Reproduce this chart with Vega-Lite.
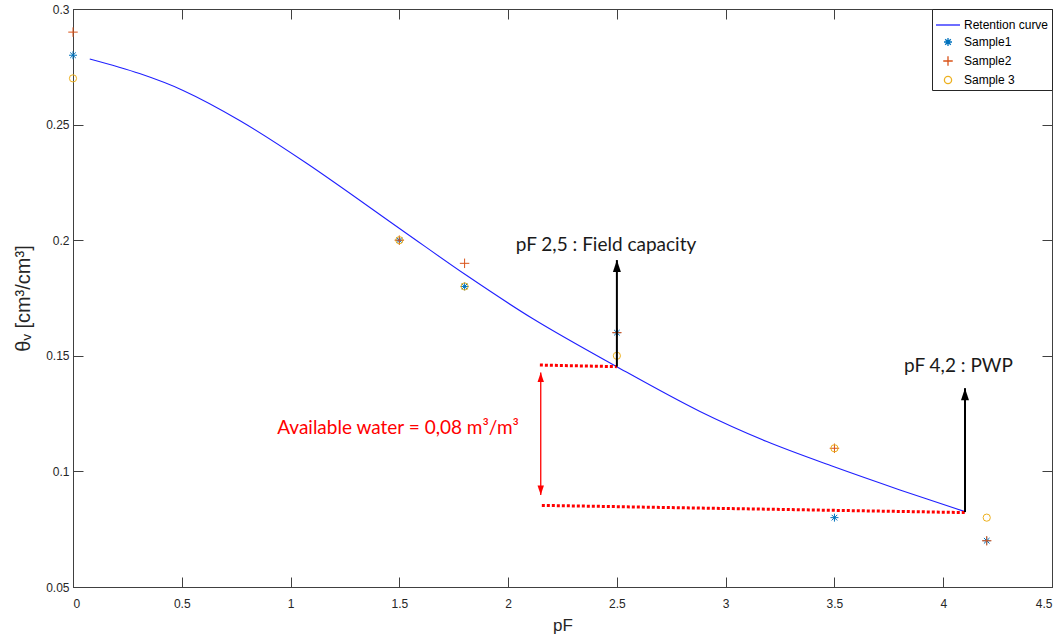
{
  "$schema": "https://vega.github.io/schema/vega-lite/v6.json",
  "width": 979,
  "height": 578,
  "autosize": "none",
  "padding": {"left": 73, "top": 9, "right": 8, "bottom": 55},
  "background": "white",
  "config": {
    "font": "Liberation Sans",
    "view": {"stroke": "#404040", "strokeWidth": 1},
    "axis": {
      "grid": false,
      "domainColor": "#404040",
      "tickColor": "#404040",
      "tickSize": -10,
      "labelColor": "#262626",
      "labelFont": "Liberation Sans",
      "labelFontSize": 12,
      "titleFont": "Liberation Sans",
      "titleFontSize": 16,
      "titleFontWeight": "normal",
      "titleColor": "#262626"
    }
  },
  "datasets": {
    "curve": [
      {"pF": 0.077, "theta": 0.2784},
      {"pF": 0.306, "theta": 0.2721},
      {"pF": 0.506, "theta": 0.2648},
      {"pF": 0.766, "theta": 0.2518},
      {"pF": 1.072, "theta": 0.2334},
      {"pF": 1.517, "theta": 0.2040},
      {"pF": 1.810, "theta": 0.1847},
      {"pF": 2.116, "theta": 0.1659},
      {"pF": 2.499, "theta": 0.1453},
      {"pF": 2.882, "theta": 0.1259},
      {"pF": 3.189, "theta": 0.1129},
      {"pF": 3.495, "theta": 0.1021},
      {"pF": 3.801, "theta": 0.0920},
      {"pF": 4.100, "theta": 0.0826}
    ],
    "samples": [
      {"series": "Sample1", "pF": 0, "theta": 0.28},
      {"series": "Sample1", "pF": 1.5, "theta": 0.20},
      {"series": "Sample1", "pF": 1.8, "theta": 0.18},
      {"series": "Sample1", "pF": 2.5, "theta": 0.16},
      {"series": "Sample1", "pF": 3.5, "theta": 0.08},
      {"series": "Sample1", "pF": 4.2, "theta": 0.07},
      {"series": "Sample2", "pF": 0, "theta": 0.29},
      {"series": "Sample2", "pF": 1.5, "theta": 0.20},
      {"series": "Sample2", "pF": 1.8, "theta": 0.19},
      {"series": "Sample2", "pF": 2.5, "theta": 0.16},
      {"series": "Sample2", "pF": 3.5, "theta": 0.11},
      {"series": "Sample2", "pF": 4.2, "theta": 0.07},
      {"series": "Sample 3", "pF": 0, "theta": 0.27},
      {"series": "Sample 3", "pF": 1.5, "theta": 0.20},
      {"series": "Sample 3", "pF": 1.8, "theta": 0.18},
      {"series": "Sample 3", "pF": 2.5, "theta": 0.15},
      {"series": "Sample 3", "pF": 3.5, "theta": 0.11},
      {"series": "Sample 3", "pF": 4.2, "theta": 0.08}
    ],
    "levels": [
      {"pF": 2.146, "theta": 0.1460, "pF2": 2.5, "theta2": 0.1453},
      {"pF": 2.155, "theta": 0.0853, "pF2": 4.1, "theta2": 0.0822}
    ],
    "markers": [
      {"pF": 2.5, "from": 0.1453, "to": 0.1914},
      {"pF": 4.1, "from": 0.0824, "to": 0.1360}
    ],
    "span": [
      {"pF": 2.15, "from": 0.0898, "to": 0.1428}
    ],
    "notes": [
      {"pF": 2.45, "theta": 0.198, "text": "pF 2,5 : Field capacity"},
      {"pF": 4.07, "theta": 0.1456, "text": "pF 4,2 : PWP"}
    ],
    "water": [
      {"pF": 1.494, "theta": 0.1188, "text": "Available water = 0,08 m³/m³"}
    ]
  },
  "resolve": {"axis": {"x": "independent", "y": "independent"}},
  "layer": [
    {
      "data": {"name": "curve"},
      "mark": {"type": "line", "color": "#2020ff", "strokeWidth": 1.1, "interpolate": "catmull-rom"},
      "encoding": {
        "x": {
          "field": "pF", "type": "quantitative",
          "scale": {"domain": [0, 4.5], "nice": false, "zero": false},
          "axis": {
            "orient": "bottom",
            "values": [0, 0.5, 1, 1.5, 2, 2.5, 3, 3.5, 4, 4.5],
            "format": ".1~f",
            "labelPadding": 21,
            "title": "pF",
            "titleFontSize": 17,
            "titlePadding": 8
          }
        },
        "y": {
          "field": "theta", "type": "quantitative",
          "scale": {"domain": [0.05, 0.3], "nice": false, "zero": false},
          "axis": {
            "orient": "left",
            "values": [0.05, 0.1, 0.15, 0.2, 0.25, 0.3],
            "format": ".2~f",
            "labelPadding": 14,
            "title": "θᵥ  [cm³/cm³]",
            "titleFontSize": 20,
            "titlePadding": 12
          }
        }
      }
    },
    {
      "data": {"name": "samples"},
      "mark": {"type": "point", "filled": false, "strokeWidth": 1, "opacity": 1},
      "encoding": {
        "x": {
          "field": "pF", "type": "quantitative",
          "axis": {"orient": "top", "labels": false, "title": null, "values": [0, 0.5, 1, 1.5, 2, 2.5, 3, 3.5, 4, 4.5]}
        },
        "y": {
          "field": "theta", "type": "quantitative",
          "axis": {"orient": "right", "labels": false, "title": null, "values": [0.05, 0.1, 0.15, 0.2, 0.25, 0.3]}
        },
        "color": {
          "field": "series", "type": "nominal",
          "scale": {
            "domain": ["Retention curve", "Sample1", "Sample2", "Sample 3"],
            "range": ["#2020ff", "#0072BD", "#D95319", "#EDB120"]
          },
          "legend": {
            "title": null,
            "orient": "top-right",
            "offset": 0,
            "strokeColor": "#262626",
            "fillColor": "white",
            "padding": 3,
            "rowPadding": 4,
            "labelFont": "Liberation Sans",
            "labelFontSize": 12,
            "labelColor": "#000000",
            "labelOffset": 3,
            "symbolStrokeWidth": 1.3
          }
        },
        "shape": {
          "field": "series", "type": "nominal",
          "scale": {
            "domain": ["Retention curve", "Sample1", "Sample2", "Sample 3"],
            "range": [
              "stroke",
              "M-1,0L1,0M0,-1L0,1M-0.7,-0.7L0.7,0.7M-0.7,0.7L0.7,-0.7",
              "M-1,0L1,0M0,-1L0,1",
              "circle"
            ]
          }
        },
        "size": {
          "field": "series", "type": "nominal",
          "scale": {
            "type": "ordinal",
            "domain": ["Retention curve", "Sample1", "Sample2", "Sample 3"],
            "range": [576, 64, 90, 52]
          }
        }
      }
    },
    {
      "data": {"name": "levels"},
      "mark": {"type": "rule", "color": "#ff0000", "strokeWidth": 3, "strokeDash": [3, 2]},
      "encoding": {
        "x": {"field": "pF", "type": "quantitative", "axis": null},
        "y": {"field": "theta", "type": "quantitative", "axis": null},
        "x2": {"field": "pF2"},
        "y2": {"field": "theta2"}
      }
    },
    {
      "data": {"name": "markers"},
      "mark": {"type": "rule", "color": "#000000", "strokeWidth": 2},
      "encoding": {
        "x": {"field": "pF", "type": "quantitative", "axis": null},
        "y": {"field": "from", "type": "quantitative", "axis": null},
        "y2": {"field": "to"}
      }
    },
    {
      "data": {"name": "markers"},
      "mark": {"type": "point", "shape": "M0,0L-0.8,2.4L0.8,2.4Z", "size": 100, "filled": true, "color": "#000000", "opacity": 1},
      "encoding": {
        "x": {"field": "pF", "type": "quantitative", "axis": null},
        "y": {"field": "to", "type": "quantitative", "axis": null}
      }
    },
    {
      "data": {"name": "span"},
      "mark": {"type": "rule", "color": "#ff0000", "strokeWidth": 1.3},
      "encoding": {
        "x": {"field": "pF", "type": "quantitative", "axis": null},
        "y": {"field": "from", "type": "quantitative", "axis": null},
        "y2": {"field": "to"}
      }
    },
    {
      "data": {"name": "span"},
      "mark": {"type": "point", "shape": "M0,0L-0.8,2.4L0.8,2.4Z", "size": 64, "filled": true, "color": "#ff0000", "opacity": 1},
      "encoding": {
        "x": {"field": "pF", "type": "quantitative", "axis": null},
        "y": {"field": "to", "type": "quantitative", "axis": null}
      }
    },
    {
      "data": {"name": "span"},
      "mark": {"type": "point", "shape": "M0,0L-0.8,-2.4L0.8,-2.4Z", "size": 64, "filled": true, "color": "#ff0000", "opacity": 1},
      "encoding": {
        "x": {"field": "pF", "type": "quantitative", "axis": null},
        "y": {"field": "from", "type": "quantitative", "axis": null}
      }
    },
    {
      "data": {"name": "notes"},
      "mark": {"type": "text", "font": "Lato", "fontSize": 19, "color": "#1a1a1a", "align": "center", "baseline": "middle"},
      "encoding": {
        "x": {"field": "pF", "type": "quantitative", "axis": null},
        "y": {"field": "theta", "type": "quantitative", "axis": null},
        "text": {"field": "text"}
      }
    },
    {
      "data": {"name": "water"},
      "mark": {"type": "text", "font": "Lato", "fontSize": 19, "color": "#ff0000", "align": "center", "baseline": "middle"},
      "encoding": {
        "x": {"field": "pF", "type": "quantitative", "axis": null},
        "y": {"field": "theta", "type": "quantitative", "axis": null},
        "text": {"field": "text"}
      }
    }
  ]
}
